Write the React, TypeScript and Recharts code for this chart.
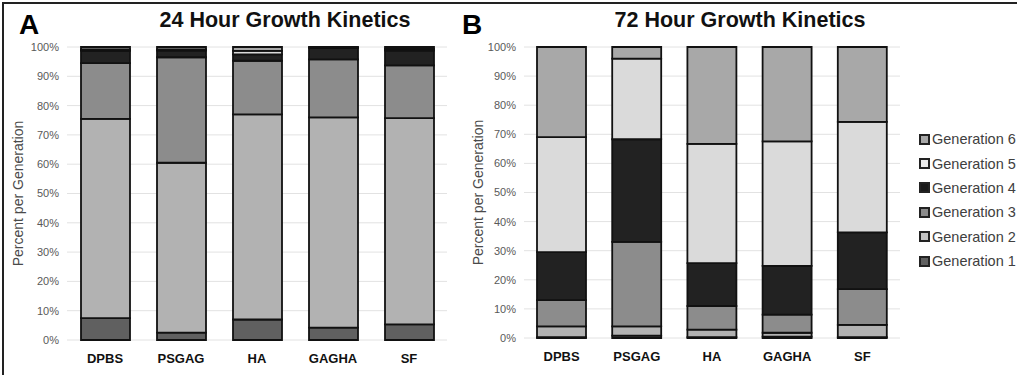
import React from "react"
import { Bar, BarChart, CartesianGrid, XAxis, YAxis } from "recharts"

const categories = ["DPBS", "PSGAG", "HA", "GAGHA", "SF"]
const generations = ["Generation 1", "Generation 2", "Generation 3", "Generation 4", "Generation 5", "Generation 6"]
const yTicks = [0, 10, 20, 30, 40, 50, 60, 70, 80, 90, 100]

// 24 hour, percent per generation
const gen1_24h = [7.5, 2.5, 7.0, 4.2, 5.3]
const gen2_24h = [68.0, 58.0, 70.0, 71.8, 70.4]
const gen3_24h = [19.0, 36.0, 18.3, 19.8, 18.0]
const gen4_24h = [4.2, 2.3, 2.2, 3.9, 5.1]
const gen5_24h = [0.5, 0.4, 1.2, 0.1, 0.6]
const gen6_24h = [0.8, 0.8, 1.3, 0.2, 0.6]

// 72 hour, percent per generation
const gen1_72h = [0.3, 0.8, 0.3, 0.5, 0.3]
const gen2_72h = [3.7, 3.2, 2.6, 1.3, 4.2]
const gen3_72h = [9.0, 29.0, 8.1, 6.2, 12.3]
const gen4_72h = [16.5, 35.3, 14.7, 16.8, 19.5]
const gen5_72h = [39.5, 27.7, 41.0, 42.8, 38.0]
const gen6_72h = [31.0, 4.0, 33.3, 32.4, 25.7]

const fills = ["#606060", "#b2b2b2", "#8c8c8c", "#222222", "#dadada", "#a8a8a8"]
const legendFills = ["#606060", "#c4c4c4", "#8c8c8c", "#1a1a1a", "#ececec", "#a8a8a8"]

const keys = ["g1", "g2", "g3", "g4", "g5", "g6"]

function buildRows(series: number[][]) {
  return categories.map((name, i) => {
    const row: Record<string, any> = { name }
    series.forEach((s, k) => {
      row[keys[k]] = s[i]
    })
    return row
  })
}

const data24 = buildRows([gen1_24h, gen2_24h, gen3_24h, gen4_24h, gen5_24h, gen6_24h])
const data72 = buildRows([gen1_72h, gen2_72h, gen3_72h, gen4_72h, gen5_72h, gen6_72h])

const font = "Arial, 'Liberation Sans', sans-serif"

function renderYLabel(posX: number) {
  return (props: any) => {
    const { viewBox } = props
    const cy = viewBox.y + viewBox.height / 2
    return (
      <text
        x={posX}
        y={cy}
        transform={`rotate(-90, ${posX}, ${cy})`}
        textAnchor="middle"
        dominantBaseline="central"
        fontSize={14}
        fill="#4a4a4a"
        fontFamily={font}
      >
        Percent per Generation
      </text>
    )
  }
}

function Panel({ data, yWidth, right, bottom, labelX }: any) {
  return (
    <BarChart
      width={460}
      height={375}
      data={data}
      margin={{ top: 47, right, bottom, left: 0 }}
      barSize={49}
    >
      <CartesianGrid vertical={false} stroke="#e2e2e2" />
      <XAxis
        dataKey="name"
        axisLine={false}
        tickLine={false}
        height={30}
        tickMargin={8}
        tick={{ fontSize: 13, fontWeight: "bold", fill: "#111", fontFamily: font }}
      />
      <YAxis
        width={yWidth}
        domain={[0, 100]}
        ticks={yTicks}
        axisLine={false}
        tickLine={false}
        tickFormatter={(v: number) => `${v}%`}
        tick={{ fontSize: 11, fill: "#595959", fontFamily: font }}
        label={renderYLabel(labelX)}
      />
      {keys.map((k, i) => (
        <Bar
          key={k}
          dataKey={k}
          name={generations[i]}
          stackId="a"
          fill={fills[i]}
          stroke="#111"
          strokeWidth={1.8}
          isAnimationActive={false}
        />
      ))}
    </BarChart>
  )
}

const titleStyle: React.CSSProperties = {
  position: "absolute",
  width: 320,
  top: 8,
  textAlign: "center",
  fontSize: 21.5,
  fontWeight: "bold",
  color: "#111",
}

const letterStyle: React.CSSProperties = {
  position: "absolute",
  top: 15,
  fontSize: 28,
  lineHeight: "20px",
  fontWeight: "bold",
  color: "#000",
}

export default function App() {
  return (
    <div
      style={{
        position: "absolute",
        left: 0,
        top: 0,
        width: 1017,
        height: 375,
        background: "#fff",
        fontFamily: font,
        overflow: "hidden",
      }}
    >
      <div
        style={{
          position: "absolute",
          left: 2,
          top: 2,
          width: 1015,
          height: 373,
          borderTop: "2px solid #222",
          borderLeft: "2px solid #222",
        }}
      />
      <div style={{ position: "absolute", left: 0, top: 0 }}>
        <Panel data={data24} yWidth={67} right={13} bottom={5} labelX={18} />
      </div>
      <div style={{ position: "absolute", left: 460, top: 0 }}>
        <Panel data={data72} yWidth={64} right={20} bottom={7} labelX={18} />
      </div>
      <div style={{ ...letterStyle, left: 19 }}>A</div>
      <div style={{ ...letterStyle, left: 462 }}>B</div>
      <div style={{ ...titleStyle, left: 125 }}>24 Hour Growth Kinetics</div>
      <div style={{ ...titleStyle, left: 580 }}>72 Hour Growth Kinetics</div>
      <div style={{ position: "absolute", left: 919, top: 127 }}>
        {generations
          .map((g, i) => ({ g, i }))
          .reverse()
          .map(({ g, i }) => (
            <div key={g} style={{ display: "flex", alignItems: "center", height: 24.4 }}>
              <span
                style={{
                  display: "inline-block",
                  width: 7,
                  height: 7,
                  background: legendFills[i],
                  border: "2px solid #222",
                  marginRight: 2,
                }}
              />
              <span style={{ fontSize: 14.5, color: "#404040" }}>{g}</span>
            </div>
          ))}
      </div>
    </div>
  )
}
